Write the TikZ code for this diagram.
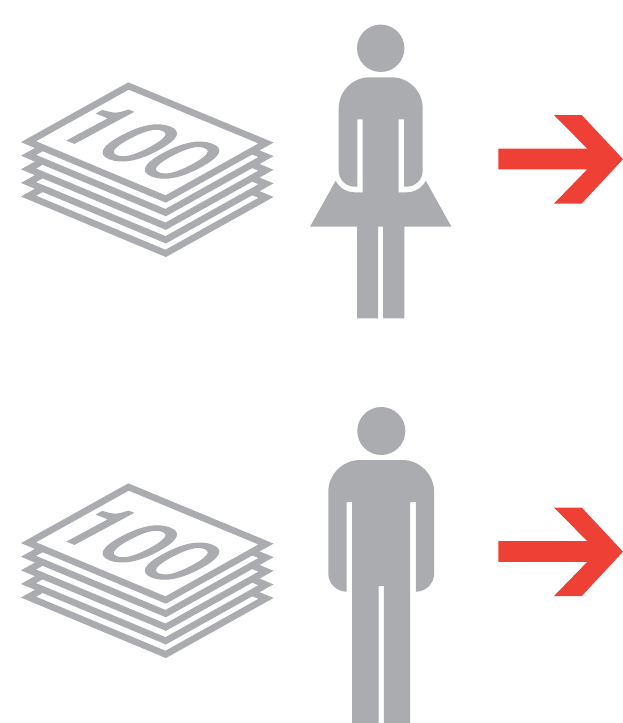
\documentclass[tikz,border=0pt]{standalone}
\usepackage{fontspec}
\newfontfamily\amountfont[FakeBold=2]{TeX Gyre Heros}
\definecolor{figgray}{HTML}{AAACAF}
\definecolor{arrowred}{HTML}{EF4035}

\begin{document}
\begin{tikzpicture}[
    x=1pt,
    y=-1pt,
    sheet/.style={draw=figgray, fill=white, line width=6.6pt, miter limit=10,
        insert path={(128.5,86) -- (266,143) -- (165.7,199) -- (28.5,141.7) -- cycle}},
    amount/.style={transform shape, text=figgray, font=\amountfont\fontsize{10}{12}\selectfont, inner sep=0pt},
    person/.style={fill=figgray},
    headpart/.style={fill=figgray},
    redarrow/.style={fill=arrowred}
]
    \useasboundingbox (0,0) rectangle (623,723);

    % upper pile
    \path[yshift=-54.4pt, sheet];
    \path[yshift=-40.8pt, sheet];
    \path[yshift=-27.2pt, sheet];
    \path[yshift=-13.6pt, sheet];
    \path[sheet];
    \node[amount, cm={7.6,-3.1,8.2,4.4,(140,143)}] (amountone) {100};

    % woman
    \fill[headpart] (380.7,48.3) circle[radius=23.7pt];
    \fill[person] (381.2,77.3) -- (369.7,77.3) arc[start angle=90, end angle=180, radius=31pt]
        -- (338.7,170.7) arc[start angle=180, end angle=270, radius=16pt]
        -- (357.3,186.7) -- (357.3,119.3) -- (362.7,119.3) -- (362.7,192.3) -- (354.7,192.3)
        arc[start angle=270, end angle=208, radius=21.6pt]
        -- (310,226.7) -- (357,226.7) -- (357,318.3) -- (378.2,318.3) -- (378.2,226.7)
        -- (383.2,226.7) -- (383.2,318.3) -- (404.4,318.3) -- (404.4,226.7) -- (451.4,226.7)
        -- (425.8,180.85) arc[start angle=-28, end angle=-90, radius=21.6pt]
        -- (398.7,192.3) -- (398.7,119.3) -- (404.1,119.3) -- (404.1,186.7) -- (406.7,186.7)
        arc[start angle=-90, end angle=0, radius=16pt]
        -- (422.7,108.3) arc[start angle=0, end angle=90, radius=31pt] -- cycle;

    % arrows
    \fill[redarrow] (498.3,148.7) -- (587.3,148.7) -- (554,115) -- (581.7,115) -- (623,159.2)
        -- (581.7,203.5) -- (554,203.5) -- (587.3,169.3) -- (498.3,169.3) -- cycle;
    \fill[redarrow] (498.3,541.2) -- (587.3,541.2) -- (554,507.5) -- (581.7,507.5) -- (623,551.7)
        -- (581.7,596) -- (554,596) -- (587.3,561.8) -- (498.3,561.8) -- cycle;

    % lower pile
    \path[yshift=-455.4pt, sheet];
    \path[yshift=-441.8pt, sheet];
    \path[yshift=-428.2pt, sheet];
    \path[yshift=-414.6pt, sheet];
    \path[yshift=-401pt, sheet];
    \node[amount, cm={7.6,-3.1,8.2,4.4,(140,544)}] (amounttwo) {100};

    % man
    \fill[headpart] (381.3,431) circle[radius=24pt];
    \fill[person] (381.2,460) -- (360.3,460) arc[start angle=90, end angle=180, radius=32pt]
        -- (328.3,573.4) arc[start angle=180, end angle=270, radius=18.3pt]
        -- (346.6,502) -- (352.2,502) -- (352.2,723) -- (378.5,723) -- (378.5,586)
        -- (383.9,586) -- (383.9,723) -- (410.2,723) -- (410.2,502) -- (415.8,502)
        -- (415.8,591.7) arc[start angle=-90, end angle=0, radius=18.3pt]
        -- (434.1,492) arc[start angle=0, end angle=90, radius=32pt] -- cycle;
\end{tikzpicture}
\end{document}
